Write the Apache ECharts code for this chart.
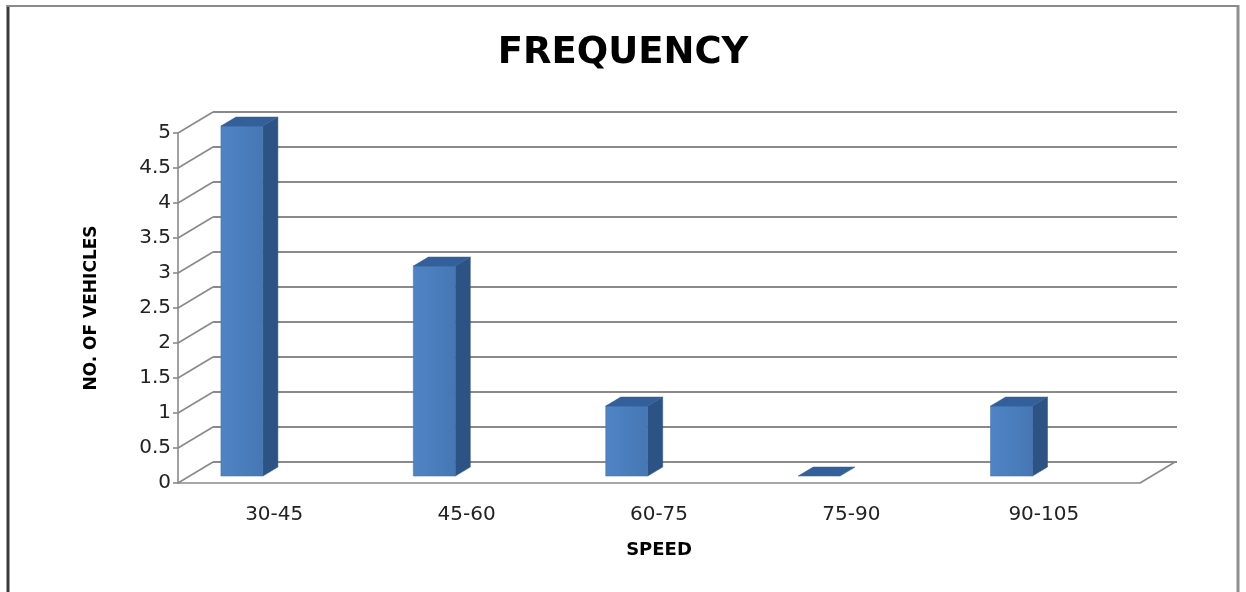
<!DOCTYPE html>
<html>
<head>
<meta charset="utf-8">
<script src="https://cdn.jsdelivr.net/npm/echarts@6/dist/echarts.min.js"></script>
<style>
  html, body { margin: 0; padding: 0; background: #fff; }
  #chart { width: 1246px; height: 592px; }
</style>
</head>
<body>
<div id="chart"></div>
<script>
// Speed bands and vehicle counts
const categories = ['30-45', '45-60', '60-75', '75-90', '90-105'];
const vehicles = [5, 3, 1, 0, 1];
const yTicks = [0, 0.5, 1, 1.5, 2, 2.5, 3, 3.5, 4, 4.5, 5];

// Oblique depth of the plot box (front plane -> back wall), in pixels
const DEPTH_X = 35, DEPTH_Y = -21;
// Bars sit between these depth fractions
const BAR_FRONT = 0.33, BAR_BACK = 0.76;
// Bar position inside its category band (front plane)
const BAR_START = 0.163, BAR_WIDTH = 0.218;

const GRID_COLOR = '#8a8a8a';
const SIDE = '#2d5384', TOP = '#33609a';

const chart = echarts.init(document.getElementById('chart'), null, { renderer: 'canvas' });

function barItem(params, api) {
  const i = api.value(0), v = api.value(1);
  const band = api.size([1, 0])[0];
  const top = api.coord([i, v]);
  const base = api.coord([i, 0]);
  const fx = BAR_FRONT * DEPTH_X, fy = BAR_FRONT * DEPTH_Y;
  const dx = (BAR_BACK - BAR_FRONT) * DEPTH_X, dy = (BAR_BACK - BAR_FRONT) * DEPTH_Y;
  const x0 = top[0] - band / 2 + BAR_START * band + fx;
  const x1 = x0 + BAR_WIDTH * band;
  const yt = top[1] + fy, yb = base[1] + fy;
  const children = [];
  if (yb - yt > 0.5) {
    children.push({
      type: 'polygon',
      shape: { points: [[x1, yt], [x1 + dx, yt + dy], [x1 + dx, yb + dy], [x1, yb]] },
      style: { fill: SIDE, stroke: SIDE, lineWidth: 0.5 }
    });
    children.push({
      type: 'rect',
      shape: { x: x0, y: yt, width: x1 - x0, height: yb - yt },
      style: {
        fill: new echarts.graphic.LinearGradient(0, 0, 1, 0, [
          { offset: 0, color: '#4f84c4' },
          { offset: 1, color: '#4677b4' }
        ]),
        stroke: '#416fa8', lineWidth: 0.5
      }
    });
  }
  children.push({
    type: 'polygon',
    shape: { points: [[x0, yt], [x1, yt], [x1 + dx, yt + dy], [x0 + dx, yt + dy]] },
    style: { fill: TOP, stroke: TOP, lineWidth: 0.5 }
  });
  return { type: 'group', children: children };
}

// Left wall connectors (front axis ticks -> back wall) and the right floor edge
function wallItem(params, api) {
  const v = api.value(0);
  const band = api.size([1, 0])[0];
  const p = api.coord([0, v]);
  const x = p[0] - band / 2;
  const children = [{
    type: 'line',
    shape: { x1: x, y1: p[1], x2: x + DEPTH_X, y2: p[1] + DEPTH_Y },
    style: { stroke: GRID_COLOR, lineWidth: 1.6 }
  }];
  if (v === 0) {
    const xr = api.coord([categories.length - 1, 0])[0] + band / 2;
    children.push({
      type: 'line',
      shape: { x1: xr, y1: p[1], x2: xr + DEPTH_X, y2: p[1] + DEPTH_Y },
      style: { stroke: GRID_COLOR, lineWidth: 1.6 }
    });
  }
  return { type: 'group', children: children };
}

const FONT = '"DejaVu Sans", "Open Sans", sans-serif';

chart.setOption({
  backgroundColor: '#ffffff',
  animation: false,
  title: {
    text: 'FREQUENCY',
    left: 'center',
    top: 30,
    textStyle: { fontFamily: FONT, fontWeight: 'bold', fontSize: 37, color: '#000' }
  },
  graphic: [
    { type: 'line', shape: { x1: 8, y1: 5, x2: 8, y2: 592 }, style: { stroke: '#3a3a3a', lineWidth: 3 } },
    { type: 'line', shape: { x1: 7, y1: 6, x2: 1239, y2: 6 }, style: { stroke: '#8a8a8a', lineWidth: 2 } },
    { type: 'line', shape: { x1: 1238, y1: 5, x2: 1238, y2: 592 }, style: { stroke: '#8f8f8f', lineWidth: 3 } }
  ],
  grid: [
    { left: 178, top: 133, width: 962, height: 350 },
    { left: 213, top: 112, width: 964, height: 350 }
  ],
  xAxis: [
    {
      type: 'category', gridIndex: 0, data: categories,
      axisLine: { show: true, lineStyle: { color: GRID_COLOR, width: 1.6 } },
      axisTick: { show: false },
      axisLabel: { fontFamily: FONT, fontSize: 20, color: '#222', margin: 22 },
      name: 'SPEED', nameLocation: 'middle', nameGap: 58,
      nameTextStyle: { fontFamily: FONT, fontWeight: 'bold', fontSize: 18, color: '#000' }
    },
    {
      type: 'category', gridIndex: 1, data: categories, show: false
    }
  ],
  yAxis: [
    {
      type: 'value', gridIndex: 0, min: 0, max: 5, interval: 0.5,
      axisLine: { show: true, lineStyle: { color: GRID_COLOR, width: 1.6 } },
      axisTick: { show: true, length: 5, lineStyle: { color: GRID_COLOR, width: 1.6 } },
      splitLine: { show: false },
      axisLabel: { fontFamily: FONT, fontSize: 20, color: '#222', margin: 7 },
      name: 'NO. OF VEHICLES', nameLocation: 'middle', nameGap: 78, nameRotate: 90,
      nameTextStyle: { fontFamily: FONT, fontWeight: 'bold', fontSize: 17, color: '#000' }
    },
    {
      type: 'value', gridIndex: 1, min: 0, max: 5, interval: 0.5,
      axisLine: { show: false }, axisTick: { show: false }, axisLabel: { show: false },
      splitLine: { show: true, lineStyle: { color: GRID_COLOR, width: 1.8 } }
    }
  ],
  series: [
    {
      type: 'custom', xAxisIndex: 0, yAxisIndex: 0, clip: false, z: 2,
      renderItem: wallItem,
      data: yTicks.map(v => [v]),
      encode: { y: 0 }
    },
    {
      type: 'custom', xAxisIndex: 0, yAxisIndex: 0, clip: false, z: 5,
      renderItem: barItem,
      data: vehicles.map((v, i) => [i, v]),
      encode: { x: 0, y: 1 }
    }
  ]
});
</script>
</body>
</html>
